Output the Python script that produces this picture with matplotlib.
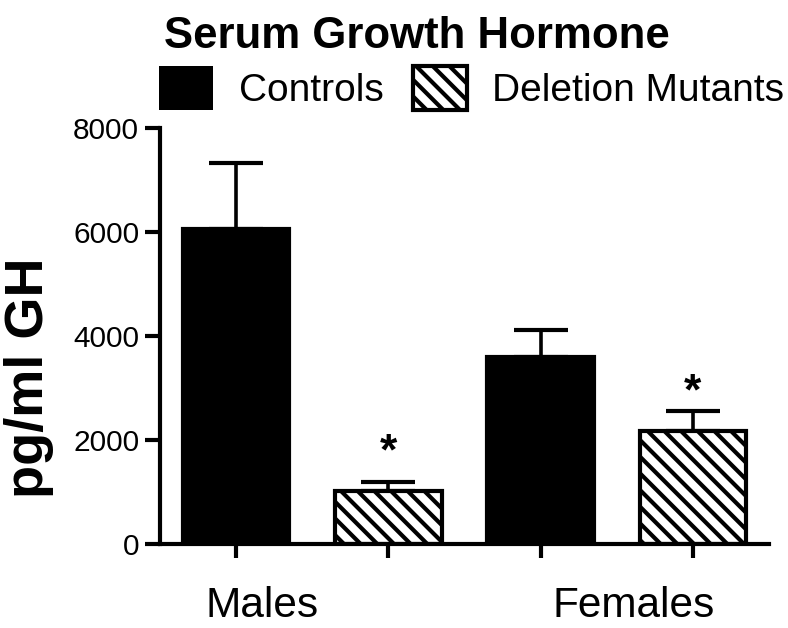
import matplotlib
matplotlib.use("Agg")
import matplotlib.pyplot as plt
from matplotlib.patches import Patch
from matplotlib.transforms import blended_transform_factory

plt.rcParams['font.family'] = ['Liberation Sans', 'DejaVu Sans']
plt.rcParams['hatch.linewidth'] = 3.0

# Data
groups = ["Males", "Females"]
series = ["Controls", "Deletion Mutants"]
controls = [6050, 3600]
controls_err = [1280, 520]
mutants = [1020, 2170]
mutants_err = [180, 390]
star_y = [1760, 2900]
yticks = [0, 2000, 4000, 6000, 8000]

fig = plt.figure(figsize=(7.88, 6.28), dpi=100)
ax = fig.add_axes([160/788, 84/628, 609/788, 416/628])

xc = [0, 2]
xm = [1, 3]
w = 0.70

ax.bar(xc, controls, width=w, color='black', edgecolor='black', linewidth=3, zorder=2)
ax.bar(xm, mutants, width=w, color='white', edgecolor='black', linewidth=3,
       hatch='\\\\', zorder=2)

ax.errorbar(xc, controls, yerr=[[0]*len(controls), controls_err], fmt='none',
            ecolor='black', elinewidth=2.6, capsize=19.5, capthick=3, zorder=1)
ax.errorbar(xm, mutants, yerr=[[0]*len(mutants), mutants_err], fmt='none',
            ecolor='black', elinewidth=2.6, capsize=19.5, capthick=3, zorder=1)

for x, y in zip(xm, star_y):
    ax.text(x, y, '*', ha='center', va='center', fontsize=32, fontweight='bold')

ax.set_xlim(-0.5, 3.5)
ax.set_ylim(0, 8000)
ax.set_yticks(yticks)
ax.set_yticklabels([str(t) for t in yticks], fontsize=21.5)
ax.set_xticks(xc + xm)
ax.set_xticklabels([])
ax.tick_params(axis='y', length=11, width=3, pad=4)
ax.tick_params(axis='x', length=10, width=3)
for s in ['top', 'right']:
    ax.spines[s].set_visible(False)
for s in ['left', 'bottom']:
    ax.spines[s].set_linewidth(3)

trans = blended_transform_factory(ax.transData, fig.transFigure)
ax.text(0.17, 11/628, groups[0], transform=trans, ha='center', va='baseline', fontsize=30.5)
ax.text(2.61, 11/628, groups[1], transform=trans, ha='center', va='baseline', fontsize=30.5)

fig.text(29/788, 1 - 378/628, 'pg/ml GH', rotation=90, ha='center', va='center',
         fontsize=39, fontweight='bold')

fig.suptitle('Serum Growth Hormone', x=417/788, y=1 - 16/628, va='top',
             fontsize=31.5, fontweight='bold')

handles = [Patch(facecolor='black', edgecolor='black', linewidth=0),
           Patch(facecolor='white', edgecolor='black', linewidth=3, hatch='\\\\')]
fig.legend(handles, series, loc='upper left', bbox_to_anchor=(159/788, 1 - 66/628),
           ncol=2, frameon=False, fontsize=28, handlelength=1.4, handleheight=1.35,
           handletextpad=0.65, columnspacing=0.75, borderpad=0, borderaxespad=0)

fig.savefig('out.png', dpi=100)
